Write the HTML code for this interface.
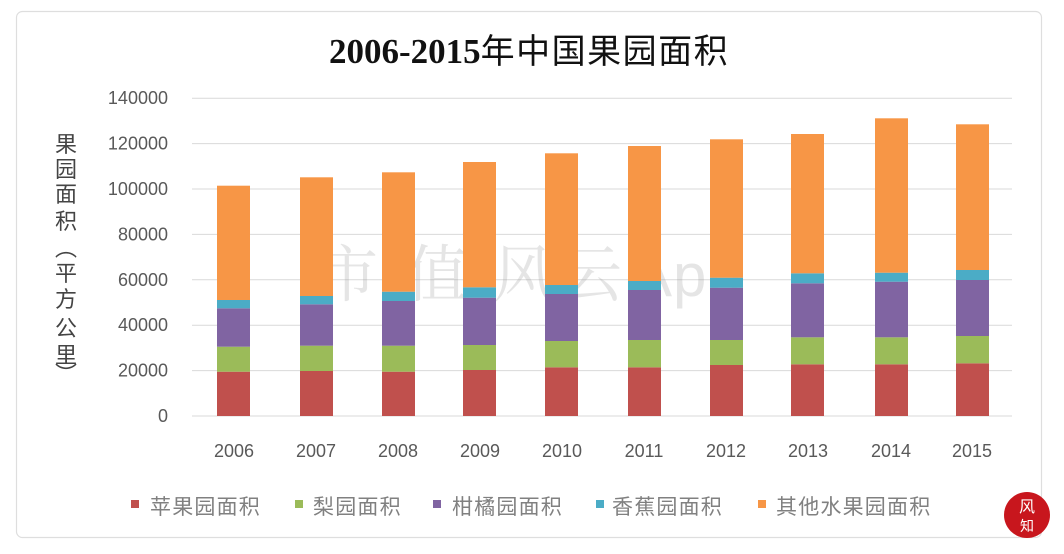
<!DOCTYPE html>
<html><head><meta charset="utf-8"><style>
html,body{margin:0;padding:0;background:#fff;}
body{width:1064px;height:554px;overflow:hidden;position:relative;}
svg{position:absolute;left:0;top:0;}
</style></head><body>
<svg width="1064" height="554" viewBox="0 0 1064 554" xmlns="http://www.w3.org/2000/svg">
<rect x="0" y="0" width="1064" height="554" fill="#fff"/>
<rect x="16.5" y="11.5" width="1025" height="526" rx="6" fill="#fff" stroke="#dedede" stroke-width="1.2"/>
<!-- title -->
<text x="329" y="63" font-family="'Liberation Serif', serif" font-weight="bold" font-size="35" fill="#111">2006-2015<tspan font-family="'Noto Sans CJK SC', sans-serif" font-weight="normal" font-size="34" letter-spacing="1.5">年中国果园面积</tspan></text>
<!-- gridlines -->
<g stroke="#d9d9d9" stroke-width="1">
<line x1="192" y1="416" x2="1012" y2="416"/>
<line x1="192" y1="370.6" x2="1012" y2="370.6"/>
<line x1="192" y1="325.2" x2="1012" y2="325.2"/>
<line x1="192" y1="279.8" x2="1012" y2="279.8"/>
<line x1="192" y1="234.4" x2="1012" y2="234.4"/>
<line x1="192" y1="189" x2="1012" y2="189"/>
<line x1="192" y1="143.6" x2="1012" y2="143.6"/>
<line x1="192" y1="98.2" x2="1012" y2="98.2"/>
</g>
<!-- y labels -->
<g font-family="'Liberation Sans', sans-serif" font-size="18" fill="#595959" text-anchor="end">
<text x="168" y="422">0</text>
<text x="168" y="376.6">20000</text>
<text x="168" y="331.2">40000</text>
<text x="168" y="285.8">60000</text>
<text x="168" y="240.4">80000</text>
<text x="168" y="195">100000</text>
<text x="168" y="149.6">120000</text>
<text x="168" y="104.2">140000</text>
</g>
<!-- y axis title -->
<g font-family="'Noto Sans CJK SC', sans-serif" font-size="22" fill="#444" text-anchor="middle">
<text x="66" y="152">果</text>
<text x="66" y="177">园</text>
<text x="66" y="202">面</text>
<text x="66" y="229">积</text>
<text x="66" y="256">︵</text>
<text x="66" y="281">平</text>
<text x="66" y="307">方</text>
<text x="66" y="336">公</text>
<text x="66" y="363">里</text>
<text x="66" y="382">︶</text>
</g>
<!-- watermark -->
<g fill="#a0a0a0" fill-opacity="0.28" font-family="'Noto Serif CJK SC', serif" font-size="62">
<text x="316" y="296">市</text>
<text x="406" y="296">值</text>
<text x="493" y="296">风</text>
<text x="560" y="296">云</text>
<text x="632" y="296" font-family="'Liberation Sans', sans-serif" font-size="60" letter-spacing="1">App</text>
</g>
<!-- bars -->
<g>
<!-- 2006 -->
<rect x="217" y="371.7" width="33" height="44.3" fill="#c0504d"/>
<rect x="217" y="346.7" width="33" height="25" fill="#9bbb59"/>
<rect x="217" y="308.3" width="33" height="38.4" fill="#8064a2"/>
<rect x="217" y="300" width="33" height="8.3" fill="#4bacc6"/>
<rect x="217" y="185.7" width="33" height="114.3" fill="#f79646"/>
<!-- 2007 -->
<rect x="300" y="371" width="33" height="45" fill="#c0504d"/>
<rect x="300" y="345.7" width="33" height="25.3" fill="#9bbb59"/>
<rect x="300" y="304.3" width="33" height="41.4" fill="#8064a2"/>
<rect x="300" y="296" width="33" height="8.3" fill="#4bacc6"/>
<rect x="300" y="177.3" width="33" height="118.7" fill="#f79646"/>
<!-- 2008 -->
<rect x="382" y="371.7" width="33" height="44.3" fill="#c0504d"/>
<rect x="382" y="345.7" width="33" height="26" fill="#9bbb59"/>
<rect x="382" y="301" width="33" height="44.7" fill="#8064a2"/>
<rect x="382" y="291.7" width="33" height="9.3" fill="#4bacc6"/>
<rect x="382" y="172.3" width="33" height="119.4" fill="#f79646"/>
<!-- 2009 -->
<rect x="463" y="370" width="33" height="46" fill="#c0504d"/>
<rect x="463" y="345" width="33" height="25" fill="#9bbb59"/>
<rect x="463" y="297.7" width="33" height="47.3" fill="#8064a2"/>
<rect x="463" y="287.3" width="33" height="10.4" fill="#4bacc6"/>
<rect x="463" y="162" width="33" height="125.3" fill="#f79646"/>
<!-- 2010 -->
<rect x="545" y="367.3" width="33" height="48.7" fill="#c0504d"/>
<rect x="545" y="341" width="33" height="26.3" fill="#9bbb59"/>
<rect x="545" y="294" width="33" height="47" fill="#8064a2"/>
<rect x="545" y="285" width="33" height="9" fill="#4bacc6"/>
<rect x="545" y="153.3" width="33" height="131.7" fill="#f79646"/>
<!-- 2011 -->
<rect x="628" y="367.3" width="33" height="48.7" fill="#c0504d"/>
<rect x="628" y="340" width="33" height="27.3" fill="#9bbb59"/>
<rect x="628" y="290" width="33" height="50" fill="#8064a2"/>
<rect x="628" y="281" width="33" height="9" fill="#4bacc6"/>
<rect x="628" y="146" width="33" height="135" fill="#f79646"/>
<!-- 2012 -->
<rect x="710" y="365" width="33" height="51" fill="#c0504d"/>
<rect x="710" y="340" width="33" height="25" fill="#9bbb59"/>
<rect x="710" y="287.7" width="33" height="52.3" fill="#8064a2"/>
<rect x="710" y="277.7" width="33" height="10" fill="#4bacc6"/>
<rect x="710" y="139.3" width="33" height="138.4" fill="#f79646"/>
<!-- 2013 -->
<rect x="791" y="364.3" width="33" height="51.7" fill="#c0504d"/>
<rect x="791" y="337.3" width="33" height="27" fill="#9bbb59"/>
<rect x="791" y="283.3" width="33" height="54" fill="#8064a2"/>
<rect x="791" y="273.3" width="33" height="10" fill="#4bacc6"/>
<rect x="791" y="134" width="33" height="139.3" fill="#f79646"/>
<!-- 2014 -->
<rect x="875" y="364.3" width="33" height="51.7" fill="#c0504d"/>
<rect x="875" y="337.3" width="33" height="27" fill="#9bbb59"/>
<rect x="875" y="281.7" width="33" height="55.6" fill="#8064a2"/>
<rect x="875" y="272.7" width="33" height="9" fill="#4bacc6"/>
<rect x="875" y="118.3" width="33" height="154.4" fill="#f79646"/>
<!-- 2015 -->
<rect x="956" y="363.3" width="33" height="52.7" fill="#c0504d"/>
<rect x="956" y="336" width="33" height="27.3" fill="#9bbb59"/>
<rect x="956" y="280" width="33" height="56" fill="#8064a2"/>
<rect x="956" y="270" width="33" height="10" fill="#4bacc6"/>
<rect x="956" y="124.3" width="33" height="145.7" fill="#f79646"/>
</g>
<!-- x labels -->
<g font-family="'Liberation Sans', sans-serif" font-size="18" fill="#595959" text-anchor="middle">
<text x="234" y="457">2006</text>
<text x="316" y="457">2007</text>
<text x="398" y="457">2008</text>
<text x="480" y="457">2009</text>
<text x="562" y="457">2010</text>
<text x="644" y="457">2011</text>
<text x="726" y="457">2012</text>
<text x="808" y="457">2013</text>
<text x="891" y="457">2014</text>
<text x="972" y="457">2015</text>
</g>
<!-- legend -->
<g font-family="'Liberation Sans', 'Noto Sans CJK SC', sans-serif" font-size="21" fill="#808080">
<rect x="131" y="500" width="8" height="8" fill="#c0504d"/>
<text x="150" y="514" letter-spacing="1.2">苹果园面积</text>
<rect x="295" y="500" width="8" height="8" fill="#9bbb59"/>
<text x="313" y="514" letter-spacing="1.2">梨园面积</text>
<rect x="433" y="500" width="8" height="8" fill="#8064a2"/>
<text x="452" y="514" letter-spacing="1.2">柑橘园面积</text>
<rect x="596" y="500" width="8" height="8" fill="#4bacc6"/>
<text x="612" y="514" letter-spacing="1.2">香蕉园面积</text>
<rect x="758" y="500" width="8" height="8" fill="#f79646"/>
<text x="776" y="514" letter-spacing="1.2">其他水果园面积</text>
</g>
<!-- logo -->
<circle cx="1027" cy="515" r="23" fill="#c8161d"/>
<text x="1027" y="512" font-family="'Noto Sans CJK SC', sans-serif" font-size="16" fill="#fff" text-anchor="middle">风</text>
<text x="1027" y="531" font-family="'Noto Sans CJK SC', sans-serif" font-size="14" fill="#fff" text-anchor="middle">知</text>
</svg>
</body></html>
